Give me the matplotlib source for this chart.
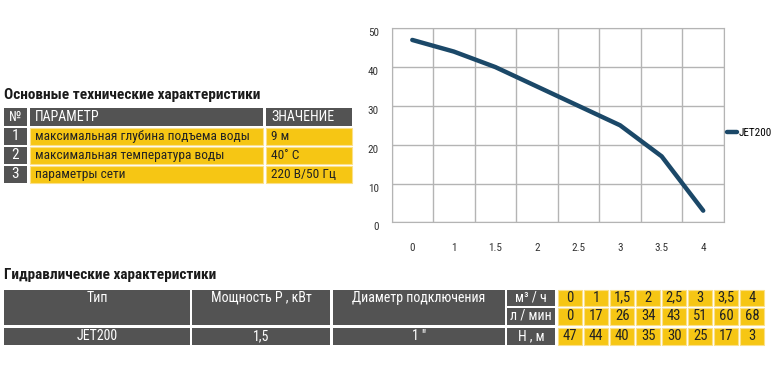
import matplotlib
matplotlib.use("Agg")
import matplotlib.pyplot as plt
from matplotlib.patches import Rectangle

plt.rcParams['font.family'] = ['Roboto Condensed', 'DejaVu Sans']

# data
flow_labels_chart = ["0", "1", "1.5", "2", "2.5", "3", "3.5", "4"]
flow_m3h = ["0", "1", "1,5", "2", "2,5", "3", "3,5", "4"]
flow_lmin = [0, 17, 26, 34, 43, 51, 60, 68]
head_m = [47, 44, 40, 35, 30, 25, 17, 3]
y_ticks = [0, 10, 20, 30, 40, 50]

spec_nums = ["1", "2", "3"]
spec_params = ["максимальная глубина подъема воды", "максимальная температура воды", "параметры сети"]
spec_values = ["9 м", "40˚ С", "220 В/50 Гц"]

pump_type = "JET200"
pump_power = "1,5"
pump_diam = "1 \""

GRAY = "#535353"
YELLOW = "#f6c614"
NAVY = "#1b4868"
W, H = 779, 366

fig = plt.figure(figsize=(W / 100, H / 100), dpi=100)

# overlay in pixel coordinates for the tables
ov = fig.add_axes([0, 0, 1, 1])
ov.set_xlim(0, W)
ov.set_ylim(H, 0)
ov.axis("off")


def cell(x0, x1, y0, y1, color, edge="none"):
    ov.add_patch(Rectangle((x0, y0), x1 - x0, y1 - y0, facecolor=color,
                           edgecolor=edge, linewidth=0.8))


# --- top-left table
ov.text(4, 94.5, "Основные технические характеристики", fontsize=11, fontweight="bold",
        va="center", ha="left", color="#1a1a1a")
rows_y = [(108, 125.5), (128, 145), (147, 163.5), (166, 183)]
cols_x = [(4, 27), (30, 263), (266, 352)]
y0, y1 = rows_y[0]
for (x0, x1) in cols_x:
    cell(x0, x1, y0, y1, GRAY)
ov.text(15.5, (y0 + y1) / 2, "№", color="white", fontsize=10, ha="center", va="center")
ov.text(35, (y0 + y1) / 2, "ПАРАМЕТР", color="white", fontsize=10, ha="left", va="center")
ov.text(271, (y0 + y1) / 2, "ЗНАЧЕНИЕ", color="white", fontsize=10, ha="left", va="center")
for (y0, y1), n, p, v in zip(rows_y[1:], spec_nums, spec_params, spec_values):
    cell(*cols_x[0], y0, y1, GRAY)
    cell(*cols_x[1], y0, y1, YELLOW, "#fbe08a")
    cell(*cols_x[2], y0, y1, YELLOW, "#fbe08a")
    yc = (y0 + y1) / 2
    ov.text(15.5, yc, n, color="white", fontsize=11, ha="center", va="center")
    ov.text(35, yc, p, color="#222222", fontsize=9.6, ha="left", va="center")
    ov.text(271, yc, v, color="#222222", fontsize=9.6, ha="left", va="center")

# --- bottom table
ov.text(4, 275, "Гидравлические характеристики", fontsize=11, fontweight="bold",
        va="center", ha="left", color="#1a1a1a")
r1, r2, r3 = (289.5, 306), (307.5, 324.5), (327.5, 344.5)
big_cols = [(4, 190), (192, 330.5), (333, 505)]
head_txt = ["Тип", "Мощность Р , кВт", "Диаметр подключения"]
body_txt = [pump_type, pump_power, pump_diam]
for (x0, x1), ht, bt in zip(big_cols, head_txt, body_txt):
    cell(x0, x1, r1[0], r2[1], GRAY)
    cell(x0, x1, r3[0], r3[1], GRAY)
    xc = (x0 + x1) / 2
    ov.text(xc, sum(r1) / 2, ht, color="white", fontsize=10, ha="center", va="center")
    ov.text(xc, sum(r3) / 2, bt, color="white", fontsize=10, ha="center", va="center")

unit_col = (507.5, 555)
for (y0, y1), t in zip([r1, r2, r3], ["м³ / ч", "л / мин", "Н , м"]):
    cell(*unit_col, y0, y1, GRAY)
    ov.text(sum(unit_col) / 2, (y0 + y1) / 2, t, color="white", fontsize=10,
            ha="center", va="center")

for i, (a, b, c) in enumerate(zip(flow_m3h, flow_lmin, head_m)):
    x0 = 558 + i * 26
    x1 = x0 + 24.5
    xc = (x0 + x1) / 2
    for (y0, y1), t in zip([r1, r2, r3], [a, b, c]):
        cell(x0, x1, y0, y1, YELLOW, "#fbe08a")
        ov.text(xc, (y0 + y1) / 2, str(t), color="#222222", fontsize=10.5,
                ha="center", va="center")

# --- chart
left, right, top, bottom = 391.5, 724, 28.3, 222.3
ax = fig.add_axes([left / W, 1 - bottom / H, (right - left) / W, (bottom - top) / H])
xs = list(range(len(head_m)))
ax.plot(xs, head_m, color=NAVY, linewidth=3.2, solid_capstyle="round",
        solid_joinstyle="round", label="JET200")
ax.set_xlim(-0.5, len(xs) - 0.5)
ax.set_ylim(0, 50)
ax.set_xticks(xs)
ax.set_xticklabels(flow_labels_chart)
ax.set_xticks([x - 0.5 for x in range(len(xs) + 1)], minor=True)
ax.set_yticks(y_ticks)
ax.grid(True, which="minor", axis="x", color="#b4b4b4", linewidth=1)
ax.grid(True, which="major", axis="y", color="#b4b4b4", linewidth=1)
ax.tick_params(which="both", length=0)
ax.tick_params(axis="x", pad=15, labelsize=8, colors="#333333")
ax.tick_params(axis="y", pad=9, labelsize=8, colors="#333333")
for lbl in ax.get_yticklabels():
    lbl.set_verticalalignment("top")
for s in ax.spines.values():
    s.set_color("#b4b4b4")
ax.legend(loc="center left", bbox_to_anchor=(0.995, 0.46), frameon=False, fontsize=8,
          handlelength=0.9, handletextpad=0.2, borderaxespad=0)

fig.savefig("out.png", dpi=100)
